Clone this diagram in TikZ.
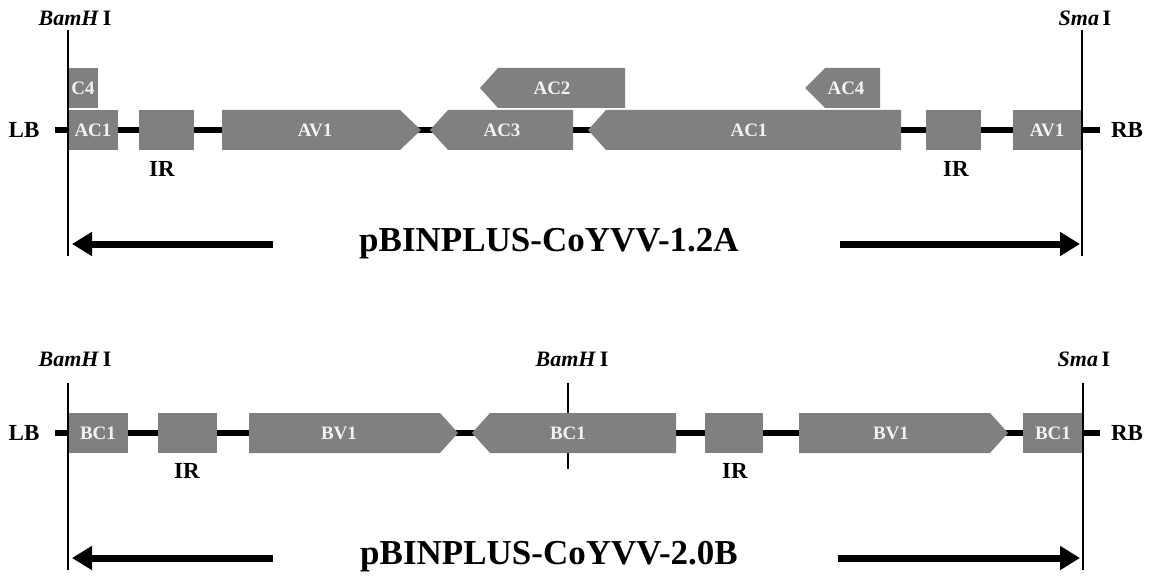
\documentclass[tikz,border=0pt]{standalone}
\usepackage{fontspec}
\setmainfont{Liberation Serif}
\usetikzlibrary{arrows.meta}
\definecolor{genegray}{RGB}{128,128,128}
\definecolor{genetext}{RGB}{242,242,242}
\tikzset{
  gene/.style={fill=genegray},
  glabel/.style={text=genetext,font=\fontsize{19}{19}\selectfont\bfseries,inner sep=0pt},
  blabel/.style={font=\fontsize{23}{23}\selectfont\bfseries,inner sep=0pt},
  site/.style={font=\fontsize{22}{22}\selectfont\bfseries,inner sep=0pt},
  title/.style={font=\fontsize{35}{35}\selectfont\bfseries,inner sep=0pt},
  backbone/.style={line width=5.5pt},
  cut/.style={line width=1.2pt},
  dirarrow/.style={line width=7pt,-{Triangle[length=20pt,width=23pt]}},
}
\begin{document}
\begin{tikzpicture}[x=1pt,y=-1pt]
\useasboundingbox (0,0) rectangle (1151,583);
% ================= top construct =================
\coordinate (lbA) at (55,130);
\coordinate (rbA) at (1100,130);
\draw[backbone] (lbA) -- (rbA);
% genes
\fill[gene] (68,110) rectangle (118,150);
\node[glabel] (tAC1a) at (93,130) {AC1};
\fill[gene] (68,68) rectangle (98,108);
\node[glabel] (tC4) at (83,88) {C4};
\fill[gene] (139,110) rectangle (194,150);
\node[blabel] (tIR1) at (162,169) {IR};
\fill[gene] (222,110) -- (400,110) -- (421,130) -- (400,150) -- (222,150) -- cycle;
\node[glabel] (tAV1a) at (315,130) {AV1};
\fill[gene] (430,130) -- (448,110) -- (573,110) -- (573,150) -- (448,150) -- cycle;
\node[glabel] (tAC3) at (502,130) {AC3};
\fill[gene] (480,88) -- (498,68) -- (625,68) -- (625,108) -- (498,108) -- cycle;
\node[glabel] (tAC2) at (552,88) {AC2};
\fill[gene] (588,130) -- (606,110) -- (901,110) -- (901,150) -- (606,150) -- cycle;
\node[glabel] (tAC1b) at (749,130) {AC1};
\fill[gene] (805,88) -- (825,68) -- (880,68) -- (880,108) -- (825,108) -- cycle;
\node[glabel] (tAC4) at (846,88) {AC4};
\fill[gene] (926,110) rectangle (981,150);
\node[blabel] (tIR2) at (956,169) {IR};
\fill[gene] (1013,110) rectangle (1082,150);
\node[glabel] (tAV1b) at (1047,130) {AV1};
% cut sites
\coordinate (lcA1) at (68,30);
\coordinate (lcA2) at (68,256);
\coordinate (rcA1) at (1082,30);
\coordinate (rcA2) at (1082,256);
\draw[cut] (lcA1) -- (lcA2);
\draw[cut] (rcA1) -- (rcA2);
\node[site] (bamA) at (75,18) {\textit{BamH}\,I};
\node[site] (smaA) at (1085,18) {\textit{Sma}\,I};
\node[blabel] (LBA) at (24,130) {LB};
\node[blabel] (RBA) at (1127,130) {RB};
% direction and title
\node[title] (titleA) at (549,244) {pBINPLUS-CoYVV-1.2A};
\coordinate (aLs) at (273,244);
\coordinate (aLe) at (72,244);
\coordinate (aRs) at (840,244);
\coordinate (aRe) at (1080,244);
\draw[dirarrow] (aLs) -- (aLe);
\draw[dirarrow] (aRs) -- (aRe);
% ================= bottom construct =================
\coordinate (mcB1) at (568,383);
\coordinate (mcB2) at (568,469);
\draw[cut] (mcB1) -- (mcB2);
\coordinate (lbB) at (55,433);
\coordinate (rbB) at (1100,433);
\draw[backbone] (lbB) -- (rbB);
\fill[gene] (68,413) rectangle (128,453);
\node[glabel] (bBC1a) at (98,433) {BC1};
\fill[gene] (158,413) rectangle (217,453);
\node[blabel] (bIR1) at (187,471) {IR};
\fill[gene] (249,413) -- (440,413) -- (458,433) -- (440,453) -- (249,453) -- cycle;
\node[glabel] (bBV1a) at (339,433) {BV1};
\fill[gene] (472,433) -- (490,413) -- (676,413) -- (676,453) -- (490,453) -- cycle;
\node[glabel] (bBC1b) at (568,433) {BC1};
\fill[gene] (705,413) rectangle (763,453);
\node[blabel] (bIR2) at (735,471) {IR};
\fill[gene] (799,413) -- (990,413) -- (1008,433) -- (990,453) -- (799,453) -- cycle;
\node[glabel] (bBV1b) at (891,433) {BV1};
\fill[gene] (1023,413) rectangle (1082,453);
\node[glabel] (bBC1c) at (1053,433) {BC1};
% cut sites
\coordinate (lcB1) at (68,383);
\coordinate (lcB2) at (68,570);
\coordinate (rcB1) at (1083,383);
\coordinate (rcB2) at (1083,570);
\draw[cut] (lcB1) -- (lcB2);
\draw[cut] (rcB1) -- (rcB2);
\node[site] (bamB1) at (75,359) {\textit{BamH}\,I};
\node[site] (bamB2) at (572,359) {\textit{BamH}\,I};
\node[site] (smaB) at (1084,359) {\textit{Sma}\,I};
\node[blabel] (LBB) at (24,433) {LB};
\node[blabel] (RBB) at (1127,433) {RB};
\node[title] (titleB) at (549,557) {pBINPLUS-CoYVV-2.0B};
\coordinate (bLs) at (273,558);
\coordinate (bLe) at (72,558);
\coordinate (bRs) at (838,558);
\coordinate (bRe) at (1080,558);
\draw[dirarrow] (bLs) -- (bLe);
\draw[dirarrow] (bRs) -- (bRe);
\end{tikzpicture}
\end{document}
